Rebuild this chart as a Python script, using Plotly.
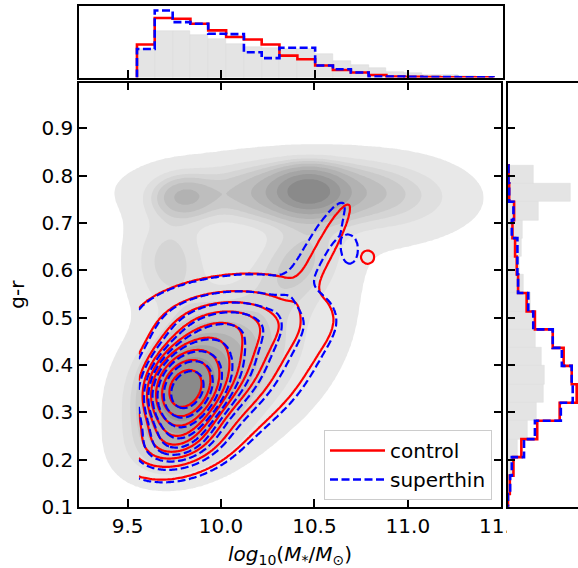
import numpy as np
import plotly.graph_objects as go

W, H = 578, 568

# ------------------------------------------------------------------ data
# marginal histogram of stellar mass (density)
mass_edges = [9.550, 9.645, 9.741, 9.836, 9.931, 10.027, 10.122, 10.217, 10.312, 10.408,
              10.503, 10.598, 10.694, 10.789, 10.884, 10.980, 11.075, 11.170, 11.265,
              11.361, 11.456]
mass_all = [0.70, 1.13, 1.13, 1.04, 0.94, 0.82, 0.74, 0.72, 0.69, 0.69,
            0.57, 0.40, 0.30, 0.24, 0.14, 0.105, 0.072, 0.058, 0.041, 0.024]
mass_control = [0.80, 1.44, 1.42, 1.30, 1.14, 0.98, 0.92, 0.80, 0.53, 0.44,
                0.29, 0.18, 0.12, 0.06, 0.024, 0.017, 0.012, 0.007, 0.007, 0.005]
mass_superthin = [0.69, 1.62, 1.34, 1.30, 1.06, 1.05, 0.61, 0.47, 0.72, 0.72,
                  0.29, 0.20, 0.12, 0.024, 0.024, 0.017, 0.012, 0.012, 0.007, 0.005]

# marginal histogram of g-r colour (density)
gr_edges = [0.089, 0.127, 0.166, 0.205, 0.243, 0.282, 0.320, 0.359, 0.398, 0.436,
            0.475, 0.513, 0.552, 0.591, 0.629, 0.668, 0.706, 0.745, 0.784, 0.822]
gr_all = [0.06, 0.12, 0.30, 0.60, 1.20, 1.75, 2.20, 2.26, 2.04, 1.69,
          1.56, 1.40, 0.96, 0.70, 0.84, 0.90, 1.86, 3.83, 1.60]
gr_control = [0.03, 0.14, 0.36, 0.84, 1.80, 3.16, 4.19, 3.89, 3.40, 2.74,
              1.66, 1.16, 0.64, 0.56, 0.46, 0.30, 0.40, 0.10, 0.06]
gr_superthin = [0.03, 0.16, 0.26, 1.00, 1.66, 3.23, 3.95, 3.89, 3.29, 2.74,
                1.56, 1.26, 0.64, 0.60, 0.60, 0.26, 0.36, 0.10, 0.06]

# smooth 2-D densities (KDE approximated by gaussian components)
all_mx = [9.80, 9.84, 10.05, 9.78, 10.47, 10.45, 9.80, 10.95, 10.10, 10.42, 9.72, 10.40]
all_my = [0.345, 0.37, 0.41, 0.24, 0.768, 0.765, 0.755, 0.75, 0.77, 0.62, 0.62, 0.50]
all_sx = [0.10, 0.20, 0.28, 0.18, 0.11, 0.30, 0.11, 0.28, 0.45, 0.15, 0.14, 0.40]
all_sy = [0.045, 0.08, 0.11, 0.05, 0.028, 0.04, 0.03, 0.055, 0.05, 0.06, 0.07, 0.20]
all_rho = [0.2, 0.3, 0.35, 0.25, 0.0, 0.05, 0.0, 0.0, 0.0, 0.3, 0.0, 0.35]
all_w = [0.08, 0.18, 0.15, 0.05, 0.07, 0.13, 0.025, 0.05, 0.06, 0.045, 0.05, 0.08]

ctrl_mx = [9.80, 9.82, 10.05, 10.05, 9.75, 10.57, 10.785]
ctrl_my = [0.345, 0.37, 0.41, 0.50, 0.235, 0.655, 0.628]
ctrl_sx = [0.10, 0.20, 0.27, 0.30, 0.16, 0.10, 0.035]
ctrl_sy = [0.045, 0.08, 0.095, 0.045, 0.04, 0.07, 0.014]
ctrl_rho = [0.2, 0.25, 0.35, 0.0, 0.25, 0.90, 0.0]
ctrl_w = [0.16, 0.30, 0.26, 0.09, 0.07, 0.016, 0.002]

st_mx = [9.81, 9.83, 10.07, 10.05, 9.76, 10.53, 10.69]
st_my = [0.343, 0.365, 0.405, 0.50, 0.23, 0.66, 0.645]
st_sx = [0.10, 0.20, 0.27, 0.30, 0.16, 0.11, 0.045]
st_sy = [0.045, 0.08, 0.095, 0.045, 0.04, 0.07, 0.03]
st_rho = [0.2, 0.25, 0.35, 0.0, 0.25, 0.88, 0.0]
st_w = [0.16, 0.30, 0.26, 0.09, 0.07, 0.018, 0.005]

iso_props = [0.05, 0.1556, 0.2611, 0.3667, 0.4722, 0.5778, 0.6833, 0.7889, 0.8944, 1.0]
gray_bands = ["rgba(255,255,255,0)", "#e8e8e8", "#dfdfdf", "#d5d5d5", "#cacaca",
              "#bebebe", "#b2b2b2", "#a5a5a5", "#989898", "#8a8a8a"]

x_ticks = [9.5, 10.0, 10.5, 11.0, 11.5]
y_ticks = [0.1, 0.2, 0.3, 0.4, 0.5, 0.6, 0.7, 0.8, 0.9]

# ------------------------------------------------------------------ helpers
def mixture(X, Y, mx, my, sx, sy, rho, w):
    Z = np.zeros_like(X)
    for a, b, c, d, r, ww in zip(mx, my, sx, sy, rho, w):
        dx = (X - a) / c
        dy = (Y - b) / d
        q = (dx * dx - 2 * r * dx * dy + dy * dy) / (1 - r * r)
        Z += ww * np.exp(-0.5 * q) / (2 * np.pi * c * d * np.sqrt(1 - r * r))
    return Z


def level_index(Z):
    vals = np.sort(Z.ravel())[::-1]
    cum = np.cumsum(vals) / vals.sum()
    idx = np.searchsorted(cum, 1 - np.array(iso_props))
    lev = np.take(vals, idx, mode="clip")
    lev = np.maximum.accumulate(lev + np.arange(len(lev)) * 1e-12)
    return np.interp(Z, np.concatenate([[0.0], lev]), np.arange(len(lev) + 1))


def step_xy(edges, vals):
    xs = [edges[0]] + list(edges[:-1]) + [edges[-1]]
    ys = [0] + list(vals) + [0]
    return xs, ys


gx = np.linspace(9.0, 11.9, 280)
gy = np.linspace(-0.05, 1.1, 280)
GX, GY = np.meshgrid(gx, gy)
Z_all = level_index(mixture(GX, GY, all_mx, all_my, all_sx, all_sy, all_rho, all_w))

cx = np.linspace(9.56, 11.3, 260)
cy = np.linspace(0.0, 1.0, 260)
CX, CY = np.meshgrid(cx, cy)
Z_ctrl = level_index(mixture(CX, CY, ctrl_mx, ctrl_my, ctrl_sx, ctrl_sy, ctrl_rho, ctrl_w))
Z_st = level_index(mixture(CX, CY, st_mx, st_my, st_sx, st_sy, st_rho, st_w))

fig = go.Figure()

nb = len(gray_bands) - 1
fig.add_trace(go.Contour(
    x=gx, y=gy, z=Z_all, xaxis="x", yaxis="y",
    contours=dict(start=1, end=nb, size=1, coloring="fill", showlines=False),
    colorscale=[[k / nb, c] for k, c in enumerate(gray_bands)],
    line=dict(width=0), showscale=False, hoverinfo="skip", showlegend=False))

fig.add_trace(go.Contour(
    x=cx, y=cy, z=Z_ctrl, xaxis="x", yaxis="y",
    contours=dict(start=1, end=9, size=1, coloring="lines"),
    colorscale=[[0, "red"], [1, "red"]], line=dict(width=2.2, color="red"),
    showscale=False, hoverinfo="skip", showlegend=False))

fig.add_trace(go.Contour(
    x=cx, y=cy, z=Z_st, xaxis="x", yaxis="y",
    contours=dict(start=1, end=9, size=1, coloring="lines"),
    colorscale=[[0, "blue"], [1, "blue"]],
    line=dict(width=2.2, color="blue", dash="8px,3.5px"),
    showscale=False, hoverinfo="skip", showlegend=False))

# top marginal
mcent = [(a + b) / 2 for a, b in zip(mass_edges[:-1], mass_edges[1:])]
mwid = [b - a for a, b in zip(mass_edges[:-1], mass_edges[1:])]
fig.add_trace(go.Bar(x=mcent, y=mass_all, width=mwid, xaxis="x2", yaxis="y2",
                     marker=dict(color="#e4e4e4", line=dict(color="#dadada", width=0.5)),
                     showlegend=False, hoverinfo="skip"))
sx_, sy_ = step_xy(mass_edges, mass_control)
fig.add_trace(go.Scatter(x=sx_, y=sy_, xaxis="x2", yaxis="y2", mode="lines",
                         line=dict(color="red", width=2.6, shape="hv"),
                         name="control", showlegend=True))
sx_, sy_ = step_xy(mass_edges, mass_superthin)
fig.add_trace(go.Scatter(x=sx_, y=sy_, xaxis="x2", yaxis="y2", mode="lines",
                         line=dict(color="blue", width=2.6, shape="hv", dash="8px,3.5px"),
                         name="superthin", showlegend=True))

# right marginal
gcent = [(a + b) / 2 for a, b in zip(gr_edges[:-1], gr_edges[1:])]
gwid = [b - a for a, b in zip(gr_edges[:-1], gr_edges[1:])]
fig.add_trace(go.Bar(y=gcent, x=gr_all, width=gwid, orientation="h", xaxis="x3", yaxis="y3",
                     marker=dict(color="#e4e4e4", line=dict(color="#dadada", width=0.5)),
                     showlegend=False, hoverinfo="skip"))
ry, rx = step_xy(gr_edges, gr_control)
fig.add_trace(go.Scatter(x=rx, y=ry, xaxis="x3", yaxis="y3", mode="lines",
                         line=dict(color="red", width=2.6, shape="vh"), showlegend=False))
ry, rx = step_xy(gr_edges, gr_superthin)
fig.add_trace(go.Scatter(x=rx, y=ry, xaxis="x3", yaxis="y3", mode="lines",
                         line=dict(color="blue", width=2.6, shape="vh", dash="8px,3.5px"),
                         showlegend=False))

font = dict(family="DejaVu Sans", size=20, color="black")
main_x = [79 / W, 501.3 / W]
main_y = [(H - 506.8) / H, (H - 82.5) / H]
xr = [9.24, 11.50]
yr = [0.1, 0.997]
common = dict(showline=True, linecolor="black", linewidth=1.6, showgrid=False,
              zeroline=False, ticks="inside", ticklen=8, tickwidth=1.5, tickcolor="black",
              automargin=False)

fig.update_layout(
    template="none", width=W, height=H, margin=dict(l=0, r=0, t=0, b=0),
    autosize=False, paper_bgcolor="white", plot_bgcolor="white", font=font,
    barmode="overlay", bargap=0,
    xaxis=dict(domain=main_x, range=xr, anchor="y", mirror="ticks",
               tickvals=x_ticks, ticktext=["9.5", "10.0", "10.5", "11.0", "11.5"], **common),
    yaxis=dict(domain=main_y, range=yr, anchor="x", mirror="ticks",
               tickvals=y_ticks, ticktext=["%.1f" % v for v in y_ticks], **common),
    xaxis2=dict(domain=[79 / W, 502.5 / W], range=[9.24, 11.505], anchor="y2", mirror=True,
                tickvals=x_ticks, showticklabels=False, **common),
    yaxis2=dict(domain=[(H - 77.5) / H, (H - 6) / H], range=[0, 1.73], anchor="x2",
                mirror=True, showline=True, linecolor="black", linewidth=1.6,
                showgrid=False, zeroline=False, ticks="", showticklabels=False),
    xaxis3=dict(domain=[507.5 / W, 1.0], range=[0, 4.27], anchor="y3", mirror=True,
                showline=True, linecolor="black", linewidth=1.6, showgrid=False,
                zeroline=False, ticks="", showticklabels=False),
    yaxis3=dict(domain=main_y, range=yr, anchor="x3", mirror=False,
                tickvals=y_ticks, showticklabels=False, **common),
    legend=dict(x=492 / W, y=(H - 500) / H, xanchor="right", yanchor="bottom",
                bgcolor="rgba(255,255,255,0.8)", bordercolor="#cccccc", borderwidth=1,
                itemwidth=55, font=dict(family="DejaVu Sans", size=20)),
    annotations=[
        dict(text="g-r", x=17 / W, y=(main_y[0] + main_y[1]) / 2, xref="paper", yref="paper",
             textangle=-90, showarrow=False, font=font, xanchor="center", yanchor="middle"),
        dict(text="<i>log</i><sub>10</sub>(<i>M</i><sub>*</sub>/<i>M</i><sub>\u2299</sub>)",
             x=290 / W, y=(H - 555) / H, xref="paper", yref="paper", showarrow=False,
             font=font, xanchor="center", yanchor="middle"),
    ],
    shapes=[dict(type="rect", xref="paper", yref="paper", x0=507 / W, x1=1.0,
                 y0=0, y1=(H - 509) / H, fillcolor="white", line=dict(width=0), layer="above")],
)

fig.write_html("out.html", config={"displayModeBar": False},
               post_script="document.body.style.margin='0px';document.body.style.overflow='hidden';")
